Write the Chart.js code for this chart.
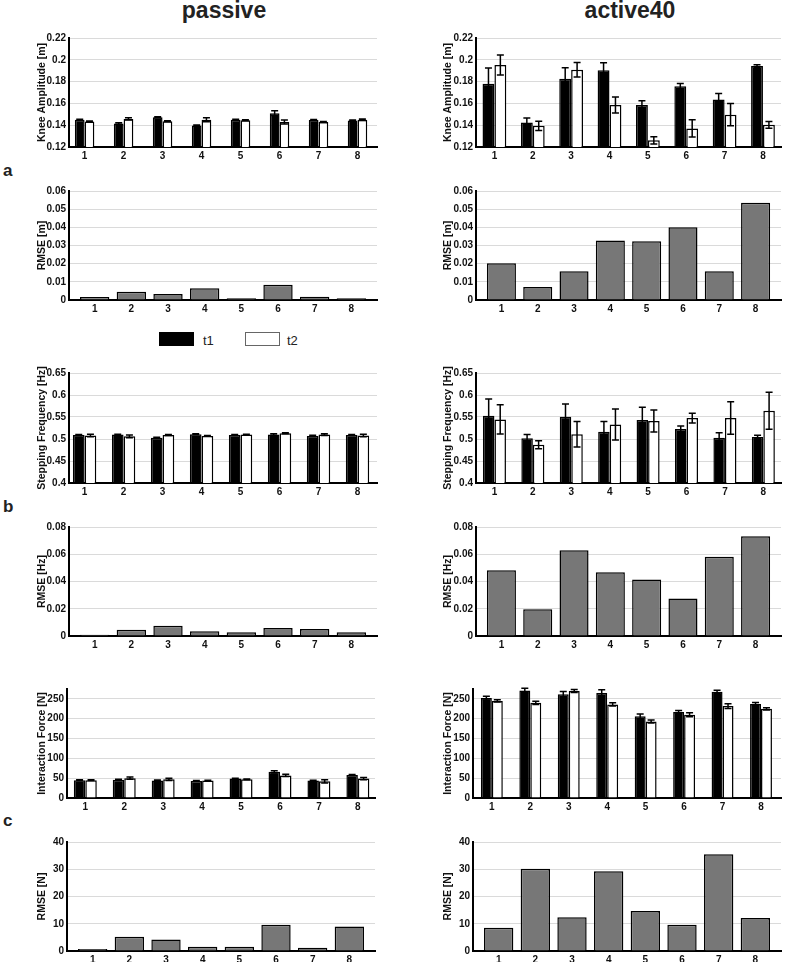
<!DOCTYPE html>
<html>
<head>
<meta charset="utf-8">
<script src="https://cdn.jsdelivr.net/npm/chart.js@4.4.1/dist/chart.umd.min.js"></script>
<style>
    body { margin: 0; background: #fff; width: 787px; height: 962px; overflow: hidden; }
    #figure { position: relative; width: 787px; height: 962px; font-family: "Liberation Sans", Arial, sans-serif; color: #222; }
    #figure canvas { position: absolute; }
    .head { position: absolute; top: -1px; width: 200px; text-align: center; font-size: 23px; line-height: 23px; font-weight: bold; }
    .tag { position: absolute; left: 3px; font-size: 17px; line-height: 18px; font-weight: bold; }
    .box { position: absolute; top: 332px; width: 35px; height: 14px; box-sizing: border-box; }
    .key { position: absolute; top: 334px; font-size: 13px; line-height: 13px; }
</style>
</head>
<body>
<div id="figure">
    <div class="head" style="left:124px">passive</div>
    <div class="head" style="left:530px">active40</div>
    <div class="tag" style="top:162px">a</div>
    <div class="tag" style="top:498px">b</div>
    <div class="tag" style="top:812px">c</div>
    <div class="box" style="left:159px; background:#000"></div>
    <div class="key" style="left:203px">t1</div>
    <div class="box" style="left:245px; background:#fff; border:1px solid #666"></div>
    <div class="key" style="left:287px">t2</div>
</div>
<script>
// subjects on the x axis
const groups = ["1", "2", "3", "4", "5", "6", "7", "8"];

// a - knee amplitude [m]
const kneePassiveT1 = [0.145, 0.1415, 0.1473, 0.1397, 0.145, 0.151, 0.1448, 0.1442];
const kneePassiveT1Err = [0.0005, 0.0008, 0.0005, 0.0005, 0.0005, 0.0022, 0.0005, 0.0005];
const kneePassiveT2 = [0.1433, 0.1458, 0.1436, 0.145, 0.1445, 0.143, 0.143, 0.145];
const kneePassiveT2Err = [0.0005, 0.001, 0.0005, 0.0018, 0.0005, 0.0018, 0.0005, 0.0008];
const kneeActiveT1 = [0.178, 0.1424, 0.1827, 0.1903, 0.1585, 0.1758, 0.1636, 0.1942];
const kneeActiveT1Err = [0.0145, 0.0042, 0.01, 0.007, 0.004, 0.0024, 0.0055, 0.0012];
const kneeActiveT2 = [0.1952, 0.1394, 0.1909, 0.1585, 0.1261, 0.137, 0.1497, 0.1403];
const kneeActiveT2Err = [0.0091, 0.0042, 0.0067, 0.0073, 0.0033, 0.0079, 0.0103, 0.003];
const kneeRmsePassive = [0.0016, 0.0045, 0.0033, 0.0064, 0.0009, 0.0084, 0.0018, 0.0009];
const kneeRmseActive = [0.0202, 0.0071, 0.0158, 0.0327, 0.0324, 0.04, 0.0158, 0.0535];

// b - stepping frequency [Hz]
const stepPassiveT1 = [0.509, 0.51, 0.503, 0.511, 0.509, 0.51, 0.507, 0.509];
const stepPassiveT1Err = [0.0015, 0.001, 0.001, 0.001, 0.001, 0.002, 0.0015, 0.001];
const stepPassiveT2 = [0.508, 0.506, 0.509, 0.507, 0.51, 0.513, 0.51, 0.508];
const stepPassiveT2Err = [0.003, 0.003, 0.001, 0.001, 0.001, 0.001, 0.002, 0.003];
const stepActiveT1 = [0.553, 0.5015, 0.5506, 0.5166, 0.543, 0.5227, 0.503, 0.5045];
const stepActiveT1Err = [0.038, 0.009, 0.029, 0.023, 0.029, 0.007, 0.011, 0.004];
const stepActiveT2 = [0.5446, 0.487, 0.5106, 0.533, 0.5408, 0.5476, 0.5476, 0.564];
const stepActiveT2Err = [0.033, 0.009, 0.029, 0.035, 0.025, 0.011, 0.037, 0.042];
const stepRmsePassive = [0.001, 0.0046, 0.0075, 0.0034, 0.0027, 0.0058, 0.0051, 0.0027];
const stepRmseActive = [0.0482, 0.0196, 0.063, 0.0468, 0.0415, 0.0276, 0.0582, 0.0732];

// c - interaction force [N]
const forcePassiveT1 = [45, 46, 44, 43, 49, 66, 44, 58];
const forcePassiveT1Err = [1, 1, 1.5, 1, 1, 3, 1, 1.5];
const forcePassiveT2 = [45, 50, 47, 44, 47, 57, 42, 49];
const forcePassiveT2Err = [1, 3, 3, 1, 1, 3, 4, 3];
const forceActiveT1 = [252, 271, 262, 265, 206, 217, 268, 237];
const forceActiveT1Err = [5, 6, 7, 8, 6, 4, 4, 4];
const forceActiveT2 = [245, 240, 270, 236, 193, 210, 232, 225];
const forceActiveT2Err = [3, 4, 4, 4, 4, 5, 6, 3];
const forceRmsePassive = [0.7, 5.2, 4.2, 1.6, 1.6, 9.6, 1.2, 9.0];
const forceRmseActive = [8.5, 30.2, 12.4, 29.3, 14.7, 9.6, 35.5, 12.1];

// y axis ranges: min, max, step
const kneeRange = [0.12, 0.22, 0.02];
const kneeRmseRange = [0, 0.06, 0.01];
const stepRange = [0.4, 0.65, 0.05];
const stepRmseRange = [0, 0.08, 0.01];
const forceRange = [0, 275, 50];
const forceRmseRange = [0, 40, 10];

const tickFont = { family: "'Liberation Sans', Arial, sans-serif", size: 10, weight: "bold" };
const titleFont = { family: "'Liberation Sans', Arial, sans-serif", size: 10.5, weight: "bold" };

// error bars, drawn with the y scale of each chart
const errorBars = {
    id: "errorBars",
    afterDatasetsDraw(chart) {
        const ctx = chart.ctx;
        const yScale = chart.scales.y;
        chart.data.datasets.forEach((ds, i) => {
            if (!ds.errors) return;
            const meta = chart.getDatasetMeta(i);
            ctx.save();
            ctx.strokeStyle = "#000";
            ctx.lineWidth = 1.5;
            meta.data.forEach((bar, j) => {
                const top = yScale.getPixelForValue(ds.data[j] + ds.errors[j]);
                const bot = yScale.getPixelForValue(ds.data[j] - ds.errors[j]);
                const cap = 3.5;
                ctx.beginPath();
                ctx.moveTo(bar.x, top); ctx.lineTo(bar.x, bot);
                ctx.moveTo(bar.x - cap, top); ctx.lineTo(bar.x + cap, top);
                ctx.moveTo(bar.x - cap, bot); ctx.lineTo(bar.x + cap, bot);
                ctx.stroke();
            });
            ctx.restore();
        });
    }
};

function pair(t1, t1Err, t2, t2Err) {
    return [
        { label: "t1", data: t1, errors: t1Err, backgroundColor: "#000" },
        { label: "t2", data: t2, errors: t2Err, backgroundColor: "#fff" }
    ];
}

function single(values) {
    return [{ label: "RMSE", data: values, backgroundColor: "#777" }];
}

function drawPanel(p) {
    const canvas = document.createElement("canvas");
    canvas.width = p.w;
    canvas.height = p.h;
    canvas.style.left = p.x + "px";
    canvas.style.top = p.y + "px";
    document.getElementById("figure").appendChild(canvas);

    new Chart(canvas.getContext("2d"), {
        type: "bar",
        data: { labels: groups, datasets: p.datasets },
        options: {
            responsive: false,
            animation: false,
            layout: { padding: { top: 8, right: 1 } },
            plugins: { legend: { display: false }, tooltip: { enabled: false } },
            datasets: {
                bar: { categoryPercentage: p.bar, barPercentage: 1, borderWidth: 1.5, borderColor: "#000" }
            },
            scales: {
                x: {
                    type: "linear",
                    offset: false,
                    min: p.xr[0],
                    max: p.xr[1],
                    grid: { display: false, drawTicks: false },
                    border: { color: "#000", width: 2 },
                    ticks: { stepSize: 1, includeBounds: false, padding: 3, color: "#111", font: tickFont },
                    afterFit: (s) => { s.height = 14; }
                },
                y: {
                    min: p.range[0],
                    max: p.range[1],
                    grid: { drawTicks: false, color: "#dadada" },
                    border: { color: "#000", width: 2 },
                    ticks: {
                        stepSize: p.range[2],
                        includeBounds: false,
                        padding: 3,
                        color: "#111",
                        font: tickFont,
                        callback: (v) => String(+v.toFixed(3))
                    },
                    title: { display: true, text: p.title, color: "#111", font: titleFont, padding: { top: 4, bottom: 0 } },
                    afterFit: (s) => { s.width = p.yW; }
                }
            }
        },
        plugins: [errorBars]
    });
}

const panels = [
    { x: 32, y: 29, w: 346, h: 132, yW: 37, xr: [0.6, 8.5], bar: 0.5, range: kneeRange, title: "Knee Amplitude [m]",
      datasets: pair(kneePassiveT1, kneePassiveT1Err, kneePassiveT2, kneePassiveT2Err) },
    { x: 438, y: 29, w: 344, h: 132, yW: 38, xr: [0.52, 8.47], bar: 0.62, range: kneeRange, title: "Knee Amplitude [m]",
      datasets: pair(kneeActiveT1, kneeActiveT1Err, kneeActiveT2, kneeActiveT2Err) },
    { x: 32, y: 182, w: 346, h: 132, yW: 37, xr: [0.3, 8.7], bar: 0.8, range: kneeRmseRange, title: "RMSE [m]",
      datasets: single(kneeRmsePassive) },
    { x: 438, y: 182, w: 344, h: 132, yW: 38, xr: [0.3, 8.7], bar: 0.8, range: kneeRmseRange, title: "RMSE [m]",
      datasets: single(kneeRmseActive) },
    { x: 32, y: 364, w: 346, h: 133, yW: 37, xr: [0.6, 8.5], bar: 0.6, range: stepRange, title: "Stepping Frequency [Hz]",
      datasets: pair(stepPassiveT1, stepPassiveT1Err, stepPassiveT2, stepPassiveT2Err) },
    { x: 438, y: 364, w: 344, h: 133, yW: 38, xr: [0.52, 8.46], bar: 0.6, range: stepRange, title: "Stepping Frequency [Hz]",
      datasets: pair(stepActiveT1, stepActiveT1Err, stepActiveT2, stepActiveT2Err) },
    { x: 32, y: 518, w: 346, h: 132, yW: 37, xr: [0.3, 8.7], bar: 0.8, range: stepRmseRange, title: "RMSE [Hz]",
      datasets: single(stepRmsePassive) },
    { x: 438, y: 518, w: 344, h: 132, yW: 38, xr: [0.3, 8.7], bar: 0.8, range: stepRmseRange, title: "RMSE [Hz]",
      datasets: single(stepRmseActive) },
    { x: 32, y: 680, w: 344, h: 132, yW: 35, xr: [0.53, 8.44], bar: 0.59, range: forceRange, title: "Interaction Force [N]",
      datasets: pair(forcePassiveT1, forcePassiveT1Err, forcePassiveT2, forcePassiveT2Err) },
    { x: 438, y: 680, w: 344, h: 132, yW: 35, xr: [0.51, 8.52], bar: 0.57, range: forceRange, title: "Interaction Force [N]",
      datasets: pair(forceActiveT1, forceActiveT1Err, forceActiveT2, forceActiveT2Err) },
    { x: 32, y: 833, w: 344, h: 132, yW: 35, xr: [0.3, 8.7], bar: 0.8, range: forceRmseRange, title: "RMSE [N]",
      datasets: single(forceRmsePassive) },
    { x: 438, y: 833, w: 344, h: 132, yW: 35, xr: [0.3, 8.7], bar: 0.8, range: forceRmseRange, title: "RMSE [N]",
      datasets: single(forceRmseActive) }
];

panels.forEach(drawPanel);
</script>
</body>
</html>
